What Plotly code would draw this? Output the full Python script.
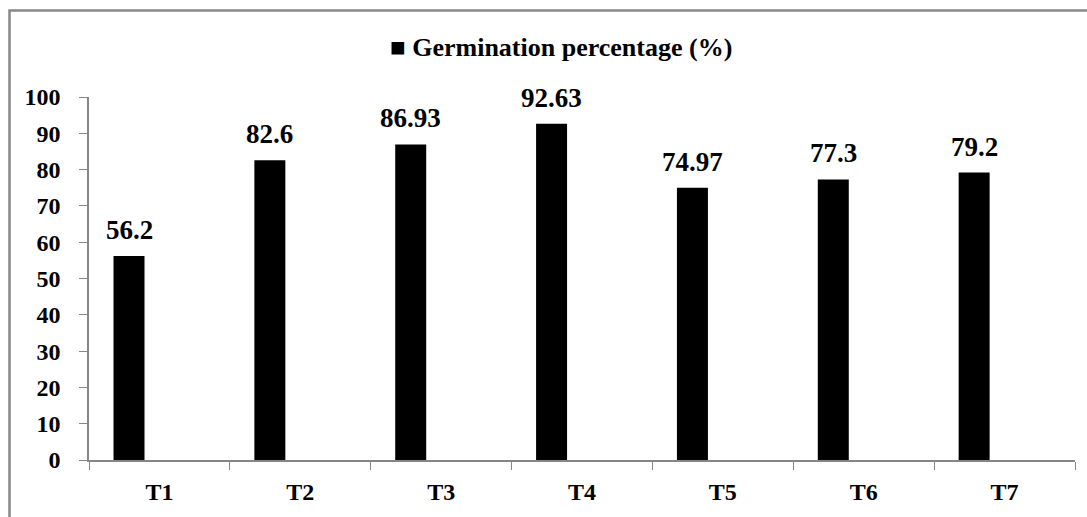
import plotly.graph_objects as go

categories = ["T1", "T2", "T3", "T4", "T5", "T6", "T7"]
values = [56.2, 82.6, 86.93, 92.63, 74.97, 77.3, 79.2]
value_labels = ["56.2", "82.6", "86.93", "92.63", "74.97", "77.3", "79.2"]
series_name = "Germination percentage (%)"
y_ticks = [0, 10, 20, 30, 40, 50, 60, 70, 80, 90, 100]

W, H = 1087, 517
ML, MR, MT, MB = 89, 12, 97, 55
PW = W - ML - MR
PH = H - MT - MB
cat_px = PW / len(categories)
bar_offset = -0.326
bar_width = 0.22
shift_px = (bar_offset + bar_width / 2) * cat_px

FONT = '"Liberation Serif", "Times New Roman", Times, serif'
AXIS_COLOR = "#868686"

fig = go.Figure()
fig.add_trace(go.Bar(
    x=categories, y=values, name=series_name,
    marker=dict(color="black", line=dict(width=0)),
    width=bar_width, offset=bar_offset,
    showlegend=False,
))

annotations = []
for c, v, t in zip(categories, values, value_labels):
    annotations.append(dict(
        x=c, y=v, xref="x", yref="y", text="<b>" + t + "</b>", showarrow=False,
        xanchor="center", yanchor="bottom", xshift=shift_px, yshift=9,
        font=dict(family=FONT, size=27, color="black"),
    ))

annotations.append(dict(
    x=(561 - ML) / PW, y=(H - MB - 47) / PH, xref="paper", yref="paper",
    text="<b>\u25A0 " + series_name + "</b>", showarrow=False,
    xanchor="center", yanchor="middle",
    font=dict(family=FONT, size=26, color="black"),
))

fig.update_layout(
    width=W, height=H,
    margin=dict(l=ML, r=MR, t=MT, b=MB, pad=0),
    paper_bgcolor="white", plot_bgcolor="white",
    font=dict(family=FONT, color="black"),
    annotations=annotations,
    shapes=[dict(
        type="rect", xref="paper", yref="paper",
        x0=(9.5 - ML) / PW, x1=(W + 10 - ML) / PW,
        y0=(H - MB - (H + 10)) / PH, y1=(H - MB - 10) / PH,
        line=dict(color="#888888", width=2.5), fillcolor="rgba(0,0,0,0)",
        layer="below",
    )],
    showlegend=False,
)

fig.update_xaxes(
    type="category", categoryorder="array", categoryarray=categories,
    range=[-0.5, len(categories) - 0.5],
    tickvals=categories, ticktext=["<b>" + c + "</b>" for c in categories],
    showline=True, linecolor=AXIS_COLOR, linewidth=1.5,
    ticks="outside", tickson="boundaries", ticklen=8, tickcolor=AXIS_COLOR, tickwidth=1,
    showgrid=False, zeroline=False,
    tickfont=dict(family=FONT, size=24, color="black"),
    ticklabelstandoff=9,
)
fig.update_yaxes(
    range=[0, 100], tickvals=y_ticks, ticktext=["<b>" + str(t) + "</b>" for t in y_ticks],
    showline=True, linecolor=AXIS_COLOR, linewidth=1.5,
    ticks="outside", ticklen=8, tickcolor=AXIS_COLOR, tickwidth=1,
    showgrid=False, zeroline=False,
    tickfont=dict(family=FONT, size=24, color="black"),
    ticklabelstandoff=14,
)

fig.write_html(
    "out.html",
    config={"displayModeBar": False},
    post_script="document.body.style.margin='0';document.body.style.overflow='hidden';",
)
